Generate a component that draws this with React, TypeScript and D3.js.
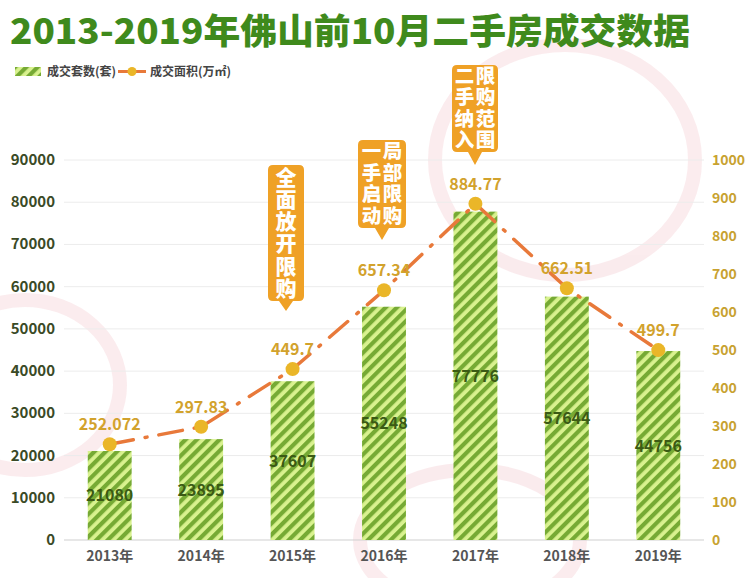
import React from "react";
import * as d3 from "d3";

const years = ["2013年", "2014年", "2015年", "2016年", "2017年", "2018年", "2019年"];
const deals = [21080, 23895, 37607, 55248, 77776, 57644, 44756];
const areas = [252.072, 297.83, 449.7, 657.34, 884.77, 662.51, 499.7];
const areaLabels = ["252.072", "297.83", "449.7", "657.34", "884.77", "662.51", "499.7"];
const leftTicks = [0, 10000, 20000, 30000, 40000, 50000, 60000, 70000, 80000, 90000];
const rightTicks = [0, 100, 200, 300, 400, 500, 600, 700, 800, 900, 1000];
const callouts = [
  { year: "2015年", cols: ["全面放开限购"] },
  { year: "2016年", cols: ["一手启动", "局部限购"] },
  { year: "2017年", cols: ["二手纳入", "限购范围"] },
];

const W = 750;
const H = 578;
const FONT = "'Noto Sans CJK SC', 'Liberation Sans', sans-serif";

export default function App() {
  const x = d3.scaleBand<string>().domain(years).range([64, 704]).paddingInner(0.52).paddingOuter(0.26);
  const yL = d3.scaleLinear().domain([0, 90000]).range([540, 160]);
  const yR = d3.scaleLinear().domain([0, 1000]).range([540, 160]);
  const cx = (yr: string) => (x(yr) as number) + x.bandwidth() / 2;
  const line = d3
    .line<number>()
    .x((_, i) => cx(years[i]))
    .y((d) => yR(d));

  const calloutGeom = [
    { top: 165, bottom: 301, tip: 311, w: 36, fs: 21, lh: 22.3, cw: 22 },
    { top: 140, bottom: 228, tip: 240, w: 48, fs: 19.5, lh: 21.5, cw: 21 },
    { top: 65, bottom: 152, tip: 165, w: 46, fs: 19.5, lh: 21.5, cw: 21 },
  ];
  const calloutX = [286, 382, 475];

  return (
    <svg width={W} height={H} style={{ display: "block", position: "absolute", left: 0, top: 0 }}>
      <defs>
        <pattern id="stripes" patternUnits="userSpaceOnUse" width="8" height="8" patternTransform="rotate(45)">
          <rect width="8" height="8" fill="#d9f28f" />
          <rect width="4.2" height="8" fill="#76aa34" />
        </pattern>
      </defs>
      <rect width={W} height={H} fill="#ffffff" />
      {/* faint watermark rings */}
      <g opacity={0.1} fill="none" stroke="#d8425a" strokeWidth={14}>
        <ellipse cx={565} cy={160} rx={130} ry={115} />
        <ellipse cx={25} cy={385} rx={95} ry={85} />
        <ellipse cx={470} cy={540} rx={110} ry={70} />
      </g>

      {/* title */}
      <text x={10} y={44} fontFamily={FONT} fontWeight={900} fontSize={35} fill="#3f8a1c" textLength={680} lengthAdjust="spacingAndGlyphs">
        2013-2019年佛山前10月二手房成交数据
      </text>

      {/* legend */}
      <rect x={15} y={67} width={26} height={9} fill="url(#stripes)" />
      <text x={47} y={76} fontFamily={FONT} fontWeight={700} fontSize={12} fill="#444">成交套数(套)</text>
      <line x1={118} x2={146} y1={71.5} y2={71.5} stroke="#e8793a" strokeWidth={3} />
      <circle cx={132} cy={71.5} r={4.5} fill="#eab628" />
      <text x={150} y={76} fontFamily={FONT} fontWeight={700} fontSize={12} fill="#444">成交面积(万㎡)</text>

      {/* grid */}
      {leftTicks.map((t) => (
        <line key={t} x1={64} x2={704} y1={yL(t)} y2={yL(t)} stroke={t === 0 ? "#cfcfcf" : "#ececec"} strokeWidth={1} />
      ))}

      {/* left axis */}
      {leftTicks.map((t) => (
        <text key={t} x={55} y={yL(t) + 5} textAnchor="end" fontFamily={FONT} fontWeight={700} fontSize={15} fill="#3a4a26">
          {t}
        </text>
      ))}
      {/* right axis */}
      {rightTicks.map((t) => (
        <text key={t} x={712} y={yR(t) + 5} textAnchor="start" fontFamily={FONT} fontWeight={700} fontSize={14} fill="#c8a230">
          {t}
        </text>
      ))}

      {/* bars */}
      {deals.map((d, i) => (
        <rect key={i} x={x(years[i])} y={yL(d)} width={x.bandwidth()} height={yL(0) - yL(d)} fill="url(#stripes)" />
      ))}
      {deals.map((d, i) => (
        <text key={i} x={cx(years[i])} y={(yL(d) + yL(0)) / 2 + 6} textAnchor="middle" fontFamily={FONT} fontWeight={700} fontSize={16} fill="#3b5a14">
          {d}
        </text>
      ))}

      {/* x labels */}
      {years.map((yr) => (
        <text key={yr} x={cx(yr)} y={561} textAnchor="middle" fontFamily={FONT} fontWeight={700} fontSize={14} fill="#555">
          {yr}
        </text>
      ))}

      {/* line */}
      <path d={line(areas) || ""} fill="none" stroke="#e8793a" strokeWidth={3.5} strokeDasharray="24 12 2 12" strokeLinecap="round" />
      {areas.map((a, i) => (
        <circle key={i} cx={cx(years[i])} cy={yR(a)} r={7} fill="#eab628" />
      ))}
      {areas.map((a, i) => (
        <text key={i} x={cx(years[i])} y={yR(a) - 14} textAnchor="middle" fontFamily={FONT} fontWeight={700} fontSize={16} fill="#d2a22c">
          {areaLabels[i]}
        </text>
      ))}

      {/* callouts */}
      {callouts.map((c, k) => {
        const g = calloutGeom[k];
        const mx = calloutX[k];
        const l = mx - g.w / 2;
        const r = mx + g.w / 2;
        const rad = 5;
        const path = `M${l + rad},${g.top} L${r - rad},${g.top} Q${r},${g.top} ${r},${g.top + rad} L${r},${g.bottom - rad} Q${r},${g.bottom} ${r - rad},${g.bottom} L${mx + 7},${g.bottom} L${mx},${g.tip} L${mx - 7},${g.bottom} L${l + rad},${g.bottom} Q${l},${g.bottom} ${l},${g.bottom - rad} L${l},${g.top + rad} Q${l},${g.top} ${l + rad},${g.top} Z`;
        const n = c.cols.length;
        const startX = mx - ((n - 1) * g.cw) / 2;
        const midY = (g.top + g.bottom) / 2;
        return (
          <g key={k}>
            <path d={path} fill="#efa126" />
            {c.cols.map((col, ci) => (
              <text
                key={ci}
                x={startX + ci * g.cw}
                y={midY}
                fontFamily={FONT}
                fontWeight={900}
                fontSize={g.fs}
                fill="#ffffff"
                textAnchor="middle"
                style={{ writingMode: "vertical-rl", letterSpacing: `${g.lh - g.fs}px` }}
              >
                {col}
              </text>
            ))}
          </g>
        );
      })}
    </svg>
  );
}
